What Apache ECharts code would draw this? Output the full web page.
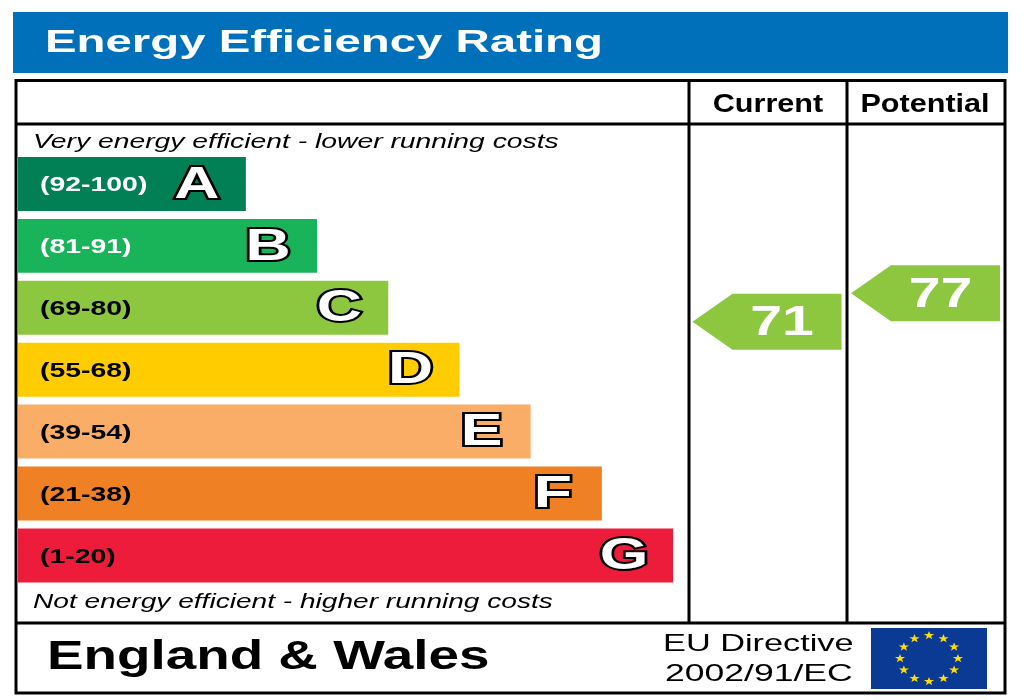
<!DOCTYPE html>
<html>
<head>
<meta charset="utf-8">
<title>Energy Efficiency Rating</title>
<script src="https://cdn.jsdelivr.net/npm/echarts@6/dist/echarts.min.js"></script>
<style>
    html, body { margin: 0; padding: 0; background: #fff; }
    #chart { width: 1024px; height: 700px; }
</style>
</head>
<body>
<div id="chart"></div>
<script>
    // rating bands, top (best) to bottom
    var bandLetters = ['A', 'B', 'C', 'D', 'E', 'F', 'G'];
    var bandRanges = ['(92-100)', '(81-91)', '(69-80)', '(55-68)', '(39-54)', '(21-38)', '(1-20)'];
    var bandLower = [92, 81, 69, 55, 39, 21, 1];
    var bandLength = [3.2, 4.2, 5.2, 6.2, 7.2, 8.2, 9.2];

    // current / potential ratings
    var ratingColumns = ['Current', 'Potential'];
    var ratingValues = [71, 77];

    var bandColors = ['#008054', '#19b459', '#8dc63f', '#ffcc00', '#f9ad67', '#ef8023', '#ec1c3a'];
    var rangeTextColors = ['#fff', '#fff', '#000', '#000', '#000', '#000', '#000'];
    var FONT = "'Liberation Sans', Arial, sans-serif";

    function bandOf(v) {
        for (var i = 0; i < bandLower.length; i++) {
            if (v >= bandLower[i]) return i;
        }
        return bandLower.length - 1;
    }

    function renderBand(params, api) {
        var len = api.value(0), idx = api.value(1);
        var start = api.coord([0, idx]);
        var end = api.coord([len, idx]);
        var h = api.size([0, 1])[1] * 0.872;
        return {
            type: 'group',
            children: [
                {
                    type: 'rect',
                    shape: { x: start[0], y: start[1] - h / 2, width: end[0] - start[0], height: h },
                    style: { fill: bandColors[idx] }
                },
                {
                    type: 'text', x: start[0] + 22, y: start[1] + 2, scaleX: 1.42,
                    style: {
                        text: bandRanges[idx], fill: rangeTextColors[idx],
                        fontSize: 20, fontWeight: 'bold', fontFamily: FONT,
                        align: 'left', verticalAlign: 'middle'
                    }
                },
                {
                    type: 'text', x: end[0] - 49, y: start[1] + 1.5, scaleX: 1.42,
                    style: {
                        text: bandLetters[idx], fill: '#fff', stroke: '#000', lineWidth: 4, strokeFirst: true,
                        fontSize: 44, fontWeight: 'bold', fontFamily: FONT,
                        align: 'center', verticalAlign: 'middle'
                    }
                }
            ]
        };
    }

    function renderArrow(params, api) {
        var col = api.value(0), val = api.value(1);
        var p = api.coord([col, val]);
        var bw = api.size([1, 0])[0];
        var left = p[0] - bw / 2 + 3.5;
        var right = p[0] + bw / 2 - 6;
        var cy = p[1], hh = 28, tip = 40;
        return {
            type: 'group',
            children: [
                {
                    type: 'polygon',
                    shape: { points: [[left, cy], [left + tip, cy - hh], [right, cy - hh], [right, cy + hh], [left + tip, cy + hh]] },
                    style: { fill: bandColors[bandOf(val)] }
                },
                {
                    type: 'text', x: (left + tip + right) / 2 - 5, y: cy + 1.5, scaleX: 1.33,
                    style: {
                        text: String(val), fill: '#fff',
                        fontSize: 43, fontWeight: 'bold', fontFamily: FONT,
                        align: 'center', verticalAlign: 'middle'
                    }
                }
            ]
        };
    }

    function starPoints(cx, cy, r) {
        var pts = [];
        for (var k = 0; k < 10; k++) {
            var rr = k % 2 === 0 ? r : r * 0.4;
            var a = -Math.PI / 2 + k * Math.PI / 5;
            pts.push([cx + rr * Math.cos(a) * 1.2, cy + rr * Math.sin(a)]);
        }
        return pts;
    }

    function flagStars() {
        var stars = [];
        for (var s = 0; s < 12; s++) {
            var a = s * Math.PI / 6;
            stars.push({
                type: 'polygon',
                shape: { points: starPoints(929 + 29 * Math.sin(a), 658.5 - 23 * Math.cos(a), 4.5) },
                style: { fill: '#ffdd00' }
            });
        }
        return stars;
    }

    function txt(x, y, text, size, opts) {
        opts = opts || {};
        return {
            type: 'text', x: x, y: y, scaleX: opts.scaleX || 1,
            style: {
                text: text, fill: opts.fill || '#000',
                fontSize: size, fontWeight: opts.weight || 'normal', fontStyle: opts.style || 'normal',
                fontFamily: FONT, align: opts.align || 'left', verticalAlign: 'middle'
            }
        };
    }

    var frame = { fill: 'none', stroke: '#000', lineWidth: 3 };

    var chart = echarts.init(document.getElementById('chart'), null, { renderer: 'canvas' });
    chart.setOption({
        animation: false,
        backgroundColor: '#fff',
        grid: [
            { left: 18, top: 153, width: 712, height: 433.4 },
            { left: 689, top: 184, width: 317, height: 475 }
        ],
        xAxis: [
            { gridIndex: 0, type: 'value', min: 0, max: 10, show: false },
            { gridIndex: 1, type: 'category', data: ratingColumns, show: false }
        ],
        yAxis: [
            { gridIndex: 0, type: 'category', data: bandLetters, inverse: true, show: false },
            { gridIndex: 1, type: 'value', min: 0, max: 100, show: false }
        ],
        graphic: [
            { type: 'rect', shape: { x: 13, y: 12, width: 995, height: 61 }, style: { fill: '#0070bb' } },
            txt(45, 43, 'Energy Efficiency Rating', 32, { weight: 'bold', fill: '#fff', scaleX: 1.48 }),
            { type: 'rect', shape: { x: 16, y: 80.5, width: 989, height: 612.5 }, style: frame },
            { type: 'line', shape: { x1: 16, y1: 124, x2: 1005, y2: 124 }, style: frame },
            { type: 'line', shape: { x1: 16, y1: 623, x2: 1005, y2: 623 }, style: frame },
            { type: 'line', shape: { x1: 689, y1: 80.5, x2: 689, y2: 623 }, style: frame },
            { type: 'line', shape: { x1: 847, y1: 80.5, x2: 847, y2: 623 }, style: frame },
            txt(768, 104.5, 'Current', 25.5, { weight: 'bold', align: 'center', scaleX: 1.2 }),
            txt(925, 104.5, 'Potential', 25.5, { weight: 'bold', align: 'center', scaleX: 1.2 }),
            txt(33, 142.5, 'Very energy efficient - lower running costs', 20.5, { style: 'italic', scaleX: 1.38 }),
            txt(33, 602.5, 'Not energy efficient - higher running costs', 20.5, { style: 'italic', scaleX: 1.37 }),
            txt(47, 658, 'England & Wales', 40, { weight: 'bold', scaleX: 1.37 }),
            txt(663, 644, 'EU Directive', 24.5, { scaleX: 1.4 }),
            txt(665, 674, '2002/91/EC', 24.5, { scaleX: 1.45 }),
            { type: 'rect', shape: { x: 871, y: 628, width: 116, height: 61 }, style: { fill: '#0b3a94' } },
            { type: 'group', children: flagStars() }
        ],
        series: [
            {
                name: 'Bands', type: 'custom', xAxisIndex: 0, yAxisIndex: 0,
                renderItem: renderBand, clip: false, silent: true,
                data: bandLetters.map(function (l, i) { return [bandLength[i], i]; })
            },
            {
                name: 'Ratings', type: 'custom', xAxisIndex: 1, yAxisIndex: 1,
                renderItem: renderArrow, clip: false, silent: true,
                data: ratingValues.map(function (v, i) { return [i, v]; })
            }
        ]
    });
    window.addEventListener('resize', function () { chart.resize(); });
</script>
</body>
</html>
